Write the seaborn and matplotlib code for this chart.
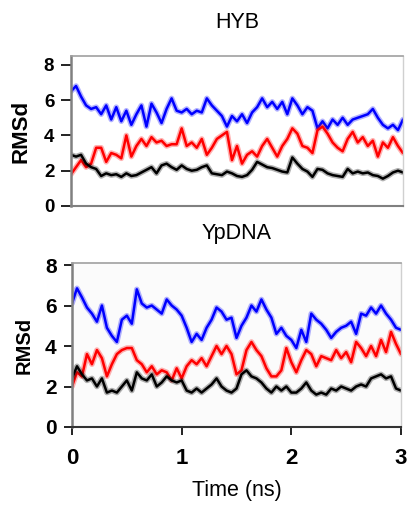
import numpy as np
import pandas as pd
import matplotlib
matplotlib.use("Agg")
import matplotlib.pyplot as plt
import seaborn as sns

sns.set_theme(style="white")
plt.rcParams["font.family"] = ["Liberation Sans", "DejaVu Sans"]
plt.rcParams["text.color"] = "black"
plt.rcParams["axes.labelcolor"] = "black"
plt.rcParams["xtick.color"] = "black"
plt.rcParams["ytick.color"] = "black"

# Simulation time grid (ns), shared by all traces
time_ns = np.linspace(0, 3, 67)

# HYB trajectory RMSd traces
hyb_blue = [6.5, 6.8, 6.2, 5.7, 5.5, 5.6, 5.2, 5.7, 4.9, 5.6, 4.8, 5.4, 4.6, 5.2, 5.7, 4.5,
            5.8, 5.3, 4.7, 5.5, 6.1, 5.4, 5.3, 5.5, 5.2, 5.4, 5.3, 6.1, 5.7, 5.4, 5.1, 4.5,
            5.1, 4.8, 5.2, 4.7, 5.3, 5.6, 6.1, 5.6, 5.9, 5.5, 5.9, 5.2, 6.1, 5.7, 5.2, 5.6,
            5.4, 4.4, 4.8, 4.4, 4.9, 4.6, 5.0, 4.6, 4.9, 5.0, 5.1, 5.2, 5.5, 5.0, 4.6, 4.4,
            4.6, 4.3, 4.9]
hyb_red = [1.8, 2.2, 2.6, 2.2, 2.4, 3.3, 3.3, 2.5, 3.0, 2.9, 2.7, 4.0, 2.8, 3.4, 3.8, 3.4,
           3.9, 3.6, 3.7, 3.4, 3.5, 3.5, 4.4, 3.4, 3.6, 3.3, 3.8, 2.9, 3.3, 3.8, 4.0, 4.2,
           2.6, 3.4, 2.4, 2.9, 3.1, 2.8, 3.4, 3.8, 3.3, 2.8, 3.4, 3.8, 4.4, 4.1, 3.4, 3.3,
           3.0, 4.3, 4.5, 4.1, 3.6, 3.3, 3.1, 3.8, 4.2, 3.6, 3.9, 3.4, 3.7, 2.8, 3.6, 3.3,
           3.9, 3.4, 3.0]
hyb_black = [2.9, 2.8, 2.9, 2.4, 2.2, 2.1, 1.7, 1.85, 1.75, 1.8, 1.65, 1.85, 1.7, 1.75, 1.9, 2.05,
             2.2, 1.85, 2.3, 2.4, 2.2, 2.05, 2.3, 2.1, 2.0, 2.05, 2.2, 2.3, 1.85, 1.8, 1.75, 1.95,
             1.85, 1.7, 1.65, 1.75, 2.05, 2.5, 2.35, 2.2, 2.15, 2.05, 1.95, 1.9, 2.75, 2.4, 2.1, 1.95,
             1.65, 2.1, 2.05, 1.85, 1.75, 1.7, 1.65, 2.1, 1.85, 1.95, 1.85, 1.9, 1.75, 1.7, 1.55, 1.7,
             1.9, 2.0, 1.9]

# YpDNA trajectory RMSd traces
yp_blue = [6.1, 6.85, 6.4, 5.9, 5.6, 5.2, 6.0, 4.9, 4.5, 4.2, 5.3, 5.5, 5.1, 6.8, 6.1, 5.9,
           6.0, 5.8, 5.6, 6.3, 6.0, 5.8, 5.5, 4.9, 4.2, 4.6, 4.3, 4.9, 5.3, 5.9, 5.7, 5.3,
           5.4, 4.4, 5.0, 5.4, 6.0, 5.7, 6.3, 5.8, 5.4, 4.6, 4.9, 4.5, 4.3, 3.9, 4.8, 4.2,
           5.6, 5.3, 5.1, 4.8, 4.4, 4.7, 4.9, 5.0, 5.2, 4.6, 5.6, 5.5, 5.9, 5.6, 6.0, 5.6,
           5.3, 4.9, 4.8]
yp_red = [2.0, 2.7, 2.5, 3.6, 3.1, 3.8, 3.4, 2.5, 3.1, 3.6, 3.8, 3.9, 3.9, 3.3, 3.1, 2.7,
          3.0, 2.6, 2.8, 2.7, 2.3, 2.9, 2.4, 3.0, 3.3, 3.1, 3.4, 3.0, 3.5, 4.0, 3.6, 4.0,
          3.6, 2.6, 2.8, 3.8, 4.2, 3.8, 3.5, 2.9, 2.5, 2.5, 2.8, 3.9, 3.2, 2.7, 3.3, 3.8,
          3.6, 3.0, 3.5, 3.4, 3.3, 3.8, 3.4, 3.7, 3.2, 4.2, 3.9, 3.5, 4.0, 3.5, 4.3, 3.7,
          4.7, 4.1, 3.6]
yp_black = [2.4, 3.0, 2.6, 2.3, 2.4, 2.0, 2.4, 1.7, 1.8, 1.7, 2.0, 2.3, 1.8, 2.7, 2.4, 2.3,
            2.6, 2.0, 2.2, 2.5, 2.3, 2.2, 2.3, 1.8, 1.7, 1.9, 1.7, 1.9, 2.1, 2.4, 2.0, 1.8,
            1.7, 1.9, 2.6, 2.8, 2.5, 2.4, 2.2, 1.9, 1.7, 2.0, 1.8, 2.0, 1.7, 1.7, 1.9, 2.2,
            1.8, 1.6, 1.7, 1.6, 1.9, 1.8, 2.0, 1.9, 1.8, 2.0, 2.1, 2.0, 2.4, 2.5, 2.6, 2.4,
            2.5, 1.9, 1.8]

y_ticks = [0, 2, 4, 6, 8]
x_ticks = [0, 1, 2, 3]
colors = {"blue": "#0000ff", "red": "#ff0000", "black": "#000000"}

W, H = 407, 508
fig = plt.figure(figsize=(W / 100, H / 100), dpi=100)
ax_top = fig.add_axes([71 / W, 1 - 206 / H, 332 / W, 150 / H])
ax_bot = fig.add_axes([72 / W, 1 - 427 / H, 329 / W, 164 / H])


def draw_traces(ax, traces):
    for name, vals in traces:
        df = pd.DataFrame({"t": time_ns, "rmsd": vals})
        # soft halo under each trace, then the core line
        sns.lineplot(data=df, x="t", y="rmsd", ax=ax, color=colors[name],
                     lw=4.0, alpha=0.3, legend=False)
        sns.lineplot(data=df, x="t", y="rmsd", ax=ax, color=colors[name],
                     lw=1.8, legend=False)


draw_traces(ax_top, [("blue", hyb_blue), ("red", hyb_red), ("black", hyb_black)])
draw_traces(ax_bot, [("blue", yp_blue), ("red", yp_red), ("black", yp_black)])

for ax in (ax_top, ax_bot):
    ax.set_xlim(0, 3)
    ax.set_yticks(y_ticks)
    ax.spines["left"].set_color("#808080")
    ax.spines["left"].set_linewidth(1.8)
    ax.spines["bottom"].set_color("#808080")
    ax.spines["bottom"].set_linewidth(1.5)
    ax.spines["top"].set_color("#a0a0a0")
    ax.spines["top"].set_linewidth(1.2)
    ax.spines["right"].set_color("#d0d0d0")
    ax.spines["right"].set_linewidth(1.0)
    ax.set_xlabel("")

ax_top.set_ylim(0, 8.5)
ax_bot.set_ylim(0, 8.1)
ax_bot.set_facecolor("#fbfbfb")

ax_top.set_xticks([])
ax_top.tick_params(axis="y", direction="out", length=7, width=1.3, color="#111111",
                   left=True, pad=5)
for lab in ax_top.get_yticklabels():
    lab.set_fontsize(13.5)
    lab.set_fontweight("bold")

ax_bot.set_xticks(x_ticks)
ax_bot.tick_params(axis="both", direction="out", length=6, width=1.3, color="#111111",
                   left=True, bottom=True, pad=5)
ax_bot.tick_params(axis="x", pad=9)
for lab in ax_bot.get_yticklabels():
    lab.set_fontsize(15)
    lab.set_fontweight("bold")
for lab in ax_bot.get_xticklabels():
    lab.set_fontsize(16)
    lab.set_fontweight("bold")
ax_bot.spines["bottom"].set_color("#333333")

ax_top.set_ylabel("RMSd", fontsize=16, fontweight="bold", labelpad=9)
ax_bot.set_ylabel("RMSd", fontsize=14.5, fontweight="bold", labelpad=8)
ax_bot.set_xlabel("Time (ns)", fontsize=15.5, labelpad=8)

fig.text(0.5 * (71 + 403) / W, 1 - 23 / H, "HYB", ha="center", va="center", fontsize=15.5)
fig.text(0.5 * (72 + 402) / W, 1 - 233 / H, "YpDNA", ha="center", va="center", fontsize=15.5)

fig.savefig("out.png", dpi=100, facecolor="white")
